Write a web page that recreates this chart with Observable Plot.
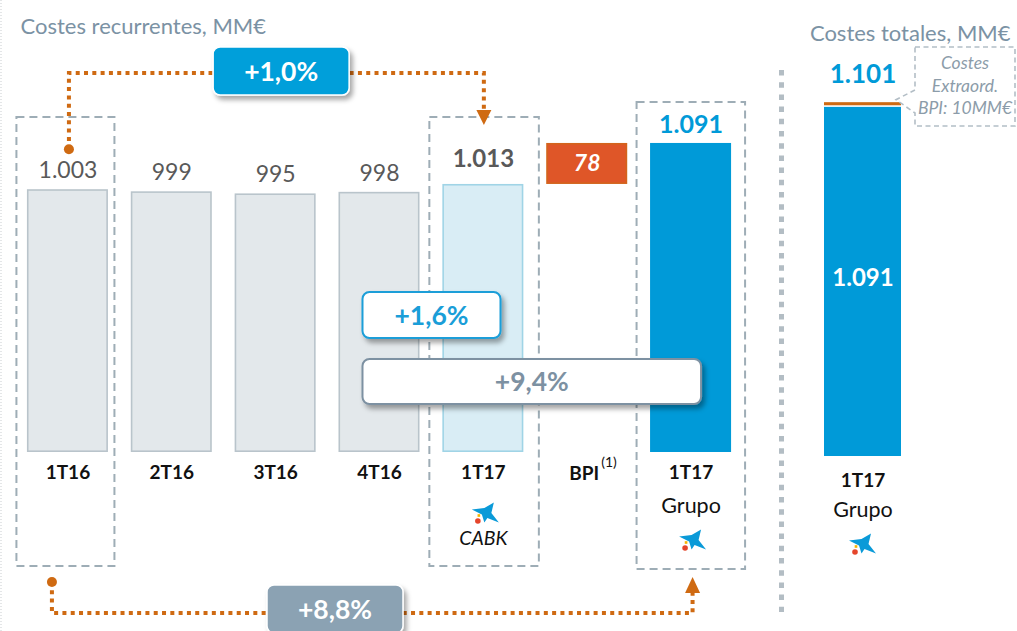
<!DOCTYPE html>
<html>
<head>
<meta charset="utf-8">
<script src="https://cdn.jsdelivr.net/npm/d3@7"></script>
<script src="https://cdn.jsdelivr.net/npm/@observablehq/plot@0.6"></script>
<style>
  html, body { margin: 0; padding: 0; background: #fff; }
  #wrap { position: relative; width: 1017px; height: 631px; overflow: hidden; background: #fff; font-family: Lato, "Open Sans", sans-serif; }
  #left { position: absolute; left: 0; top: 0; width: 770px; height: 631px; }
  #right { position: absolute; left: 770px; top: 0; width: 247px; height: 631px; }
</style>
</head>
<body>
<div id="wrap"><div id="left"></div><div id="right"></div></div>
<script>
// ---------------- data ----------------
const periods = ["1T16", "2T16", "3T16", "4T16", "1T17 CABK", "BPI", "1T17 Grupo"];
const tickLabels = ["1T16", "2T16", "3T16", "4T16", "1T17", "BPI", "1T17"];
const recurringCosts = [1003, 999, 995, 998, 1013, 78, 1091];
const barKinds = ["past", "past", "past", "past", "cabk", "bpi", "group"];
const subLabels = ["", "", "", "", "CABK", "", "Grupo"];

const totalCategory = ["1T17 Grupo"];
const totalRecurring = [1091];
const totalExtraordinary = [10];

const growthLabels = ["+1,0%", "+8,8%", "+1,6%", "+9,4%"];

const leftTitle = "Costes recurrentes, MM€";
const rightTitle = "Costes totales, MM€";

// ---------------- helpers ----------------
const locale = d3.formatLocale({decimal: ",", thousands: ".", grouping: [3], currency: ["", "€"]});
const fmt = locale.format(",d");
const yDomain = [503, 1363];   // truncated value axis of the left panel

const table = periods.map((p, i) => {
  const kind = barKinds[i];
  const start = kind === "bpi" ? recurringCosts[i - 1] : yDomain[0];
  const end = kind === "bpi" ? start + recurringCosts[i] : recurringCosts[i];
  return {period: p, tick: tickLabels[i], sub: subLabels[i], value: recurringCosts[i], kind, start, end};
});

const palette = {
  past: {fill: "#e3e8eb", stroke: "#b9c4cb"},
  cabk: {fill: "#d9edf5", stroke: "#a0d4e6"},
  bpi: {fill: "#df5628", stroke: "#d3641c"},
  group: {fill: "#009ad8", stroke: "#009ad8"}
};
const BLUE = "#009ad8";
const ORANGE = "#cf6a12";
const GREYTXT = "#595959";
const FONT = "Lato, 'Open Sans', sans-serif";

const logoSymbol = {
  draw(ctx, size) {
    const s = Math.sqrt(size / Math.PI) / 13;
    const pts = [[-14, -3], [-1.5, -4.5], [8, -10], [5.5, 0.5], [13, 10], [1.5, 5.5], [-1.5, 10], [-4, 2]];
    ctx.moveTo(pts[0][0] * s, pts[0][1] * s);
    for (const [px, py] of pts.slice(1)) ctx.lineTo(px * s, py * s);
    ctx.closePath();
  }
};

function logoMarks(data, xAcc, dy, dx) {
  return [
    Plot.dot(data, {x: xAcc, frameAnchor: "bottom", dx, dy, symbol: logoSymbol, r: 13, fill: "#0a9ad8", stroke: "none"}),
    Plot.dot(data, {x: xAcc, frameAnchor: "bottom", dx: dx - 7, dy: dy + 3, symbol: "square", r: 1.5, fill: "#f6b400", stroke: "none"}),
    Plot.dot(data, {x: xAcc, frameAnchor: "bottom", dx: dx - 8, dy: dy + 8.5, r: 2.8, fill: "#e5452b", stroke: "none"})
  ];
}

function bwOf(x) { return typeof x.bandwidth === "function" ? x.bandwidth() : x.bandwidth; }

function addShadow(g, id) {
  g.append("defs").append("filter").attr("id", id)
    .attr("x", "-20%").attr("y", "-40%").attr("width", "150%").attr("height", "200%")
    .append("feDropShadow").attr("dx", 3).attr("dy", 4).attr("stdDeviation", 2.5)
    .attr("flood-color", "#000").attr("flood-opacity", 0.35);
}

function badge(g, cx, cy, w, h, label, fill, stroke, sw, color) {
  g.append("rect").attr("x", cx - w / 2).attr("y", cy - h / 2).attr("width", w).attr("height", h)
    .attr("rx", 7).attr("ry", 7).attr("fill", fill).attr("stroke", stroke).attr("stroke-width", sw)
    .attr("filter", "url(#badgeShadow)");
  g.append("text").attr("x", cx).attr("y", cy).attr("dy", "0.36em").attr("text-anchor", "middle")
    .attr("font-family", FONT).attr("font-weight", "bold").attr("font-size", 26.5).attr("fill", color)
    .text(label);
}

function leftAnnotations(index, scales, values, dims) {
  const x = scales.x, y = scales.y;
  const bw = bwOf(x);
  const cx = k => x(k) + bw / 2;
  const g = d3.create("svg:g");
  addShadow(g, "badgeShadow");
  // faint page edge
  g.append("line").attr("x1", 1).attr("x2", 1).attr("y1", 0).attr("y2", dims.height)
    .attr("stroke", "#c9cdd0").attr("stroke-dasharray", "1,2");

  // top connector 1T16 -> 1T17 CABK
  const xa = cx(periods[0]) + 1.5, xb = cx(periods[4]) + 1;
  const dotY = y(recurringCosts[0]) - 40;
  g.append("path").attr("d", `M${xa},${dotY} V73 H${xb} V111`)
    .attr("fill", "none").attr("stroke", ORANGE).attr("stroke-width", 4).attr("stroke-dasharray", "4,4.3");
  g.append("circle").attr("cx", xa).attr("cy", dotY).attr("r", 5).attr("fill", ORANGE);
  g.append("path").attr("d", `M${xb - 7.5},110 H${xb + 7.5} L${xb},125 Z`).attr("fill", ORANGE);

  // bottom connector 1T16 -> 1T17 Grupo
  const xc = x(periods[0]) + 25, xd = cx(periods[6]) + 2;
  g.append("path").attr("d", `M${xc},582 V613 H${xd} V592`)
    .attr("fill", "none").attr("stroke", ORANGE).attr("stroke-width", 4).attr("stroke-dasharray", "4,4.3");
  g.append("circle").attr("cx", xc).attr("cy", 582).attr("r", 5).attr("fill", ORANGE);
  g.append("path").attr("d", `M${xd - 7.5},593 H${xd + 7.5} L${xd},577 Z`).attr("fill", ORANGE);

  // growth badges
  badge(g, (cx(periods[0]) + cx(periods[4])) / 2 + 6, 71, 136, 48, growthLabels[0], "#009fda", "#ffffff", 1.5, "#ffffff");
  badge(g, (cx(periods[0]) + cx(periods[6])) / 2 - 44, 609, 136, 48, growthLabels[1], "#8ba2b3", "#ffffff", 1.5, "#ffffff");
  const l16 = x(periods[3]) + 24;
  badge(g, l16 + 69, 315, 138, 46, growthLabels[2], "#ffffff", "#1a9ed8", 2, "#1a9ed8");
  const r94 = x(periods[6]) + 51;
  badge(g, (l16 + r94) / 2, 381.5, r94 - l16, 45, growthLabels[3], "#ffffff", "#7d91a2", 2, "#7d91a2");
  return g.node();
}

function rightAnnotations(index, scales, values, dims) {
  const x = scales.x, y = scales.y;
  const bw = bwOf(x);
  const g = d3.create("svg:g");
  // separator between panels
  g.append("line").attr("x1", 11.5).attr("x2", 11.5).attr("y1", 70).attr("y2", 612)
    .attr("stroke", "#b3bdc4").attr("stroke-width", 5).attr("stroke-dasharray", "5.5,6.7");
  // callout
  const xr = x(totalCategory[0]) + bw;
  const yTop = y(totalRecurring[0] + totalExtraordinary[0]);
  const L = xr + 14, R = xr + 114, T = 47, B = 126;
  g.append("path").attr("d", `M${L},${T} H${R} V${B} H${L} V113 L${xr - 5},${yTop - 4} L${L},90 Z`)
    .attr("fill", "#ffffff").attr("stroke", "#b3bec6").attr("stroke-width", 1.6).attr("stroke-dasharray", "5,3.5");
  const lines = ["Costes", "Extraord.", `BPI: ${fmt(totalExtraordinary[0])}MM€`];
  const ys = [63, 85.5, 108];
  lines.forEach((t, i) => {
    g.append("text").attr("x", (L + R) / 2).attr("y", ys[i]).attr("dy", "0.36em").attr("text-anchor", "middle")
      .attr("font-family", FONT).attr("font-style", "italic").attr("font-size", 17.5).attr("fill", "#8c9ca9").text(t);
  });
  return g.node();
}

// ---------------- left panel ----------------
const kindMarks = Object.keys(palette).map(k =>
  Plot.barY(table.filter(d => d.kind === k), {
    x: "period", y1: "start", y2: "end",
    fill: palette[k].fill, stroke: palette[k].stroke, strokeWidth: 1.6, inset: 0.8
  })
);

const left = Plot.plot({
  width: 770, height: 631,
  marginTop: 0, marginBottom: 179, marginLeft: 15.5, marginRight: 27.5,
  x: {type: "band", domain: periods, paddingInner: 0.22, paddingOuter: 0.11, round: false, axis: null},
  y: {domain: yDomain, axis: null},
  style: {fontFamily: FONT, background: "#fff"},
  marks: [
    Plot.text([leftTitle], {text: d => d, frameAnchor: "top-left", dx: 4.5, dy: 18, textAnchor: "start", fontSize: 22, fill: "#7b92a4"}),
    Plot.cell([periods[0]], {x: d => d, fill: "none", stroke: "#9eadb6", strokeWidth: 2, strokeDasharray: "8,5", insetTop: 117, insetBottom: -114, insetLeft: -10.5, insetRight: -6.5}),
    Plot.cell([periods[4]], {x: d => d, fill: "none", stroke: "#9eadb6", strokeWidth: 2, strokeDasharray: "8,5", insetTop: 117, insetBottom: -114, insetLeft: -13, insetRight: -15.5}),
    Plot.cell([periods[6]], {x: d => d, fill: "none", stroke: "#9eadb6", strokeWidth: 2, strokeDasharray: "8,5", insetTop: 102, insetBottom: -117, insetLeft: -13.5, insetRight: -14}),
    ...kindMarks,
    // value labels
    Plot.text(table.filter(d => d.kind === "past"), {x: "period", y: "end", text: d => fmt(d.value), dy: -19, fontSize: 23, fill: GREYTXT}),
    Plot.text(table.filter(d => d.kind === "cabk"), {x: "period", y: "end", text: d => fmt(d.value), dy: -25, fontSize: 24, fontWeight: "bold", fill: GREYTXT}),
    Plot.text(table.filter(d => d.kind === "group"), {x: "period", y: "end", text: d => fmt(d.value), dy: -18, fontSize: 25, fontWeight: "bold", fill: BLUE}),
    Plot.text(table.filter(d => d.kind === "bpi"), {x: "period", y: d => (d.start + d.end) / 2, text: d => fmt(d.value), fontSize: 23, fontWeight: "bold", fontStyle: "italic", fill: "#ffffff"}),
    // category labels
    Plot.text(table.filter(d => d.kind !== "bpi"), {x: "period", text: "tick", frameAnchor: "bottom", dy: 26, fontSize: 19, fontWeight: "bold", fill: "#111"}),
    Plot.text(table.filter(d => d.kind === "bpi"), {x: "period", text: "tick", frameAnchor: "bottom", dy: 27, dx: 12, textAnchor: "end", fontSize: 19, fontWeight: "bold", fill: "#111"}),
    Plot.text(table.filter(d => d.kind === "bpi"), {x: "period", text: () => "(1)", frameAnchor: "bottom", dy: 14, dx: 14, textAnchor: "start", fontSize: 14, fill: "#111"}),
    Plot.text(table.filter(d => d.kind === "cabk"), {x: "period", text: "sub", frameAnchor: "bottom", dy: 92, fontSize: 19.5, fontStyle: "italic", fill: "#111"}),
    Plot.text(table.filter(d => d.kind === "group"), {x: "period", text: "sub", frameAnchor: "bottom", dy: 60, fontSize: 21.5, fill: "#111"}),
    ...logoMarks([periods[4]], d => d, 60, 2.5),
    ...logoMarks([periods[6]], d => d, 87, 2),
    leftAnnotations
  ]
});
document.getElementById("left").appendChild(left);

// ---------------- right panel ----------------
const totals = totalCategory.map((c, i) => ({cat: c, recurring: totalRecurring[i], extra: totalExtraordinary[i], total: totalRecurring[i] + totalExtraordinary[i]}));

const right = Plot.plot({
  width: 247, height: 631,
  marginTop: 0, marginBottom: 175, marginLeft: 54, marginRight: 116,
  x: {type: "band", domain: totalCategory, padding: 0, round: false, axis: null},
  y: {domain: [0, 1425], axis: null},
  style: {fontFamily: FONT, background: "#fff"},
  marks: [
    Plot.text([rightTitle], {text: d => d, frameAnchor: "top-right", dx: 109, dy: 25, textAnchor: "end", fontSize: 22, fill: "#7b92a4"}),
    Plot.barY(totals, {x: "cat", y1: 0, y2: "recurring", fill: BLUE}),
    Plot.barY(totals, {x: "cat", y1: "recurring", y2: "total", fill: ORANGE, insetTop: -1.5, insetBottom: 1.6}),
    Plot.text(totals, {x: "cat", y: "total", text: d => fmt(d.total), dy: -30, fontSize: 26, fontWeight: "bold", fill: BLUE}),
    Plot.text(totals, {x: "cat", y: d => d.recurring / 2, text: d => fmt(d.recurring), dy: -4, fontSize: 24, fontWeight: "bold", fill: "#ffffff"}),
    Plot.text(totals, {x: "cat", text: () => "1T17", frameAnchor: "bottom", dy: 30, fontSize: 19, fontWeight: "bold", fill: "#111"}),
    Plot.text(totals, {x: "cat", text: () => "Grupo", frameAnchor: "bottom", dy: 60, fontSize: 21.5, fill: "#111"}),
    ...logoMarks(totals, "cat", 87, 0),
    rightAnnotations
  ]
});
document.getElementById("right").appendChild(right);
</script>
</body>
</html>
